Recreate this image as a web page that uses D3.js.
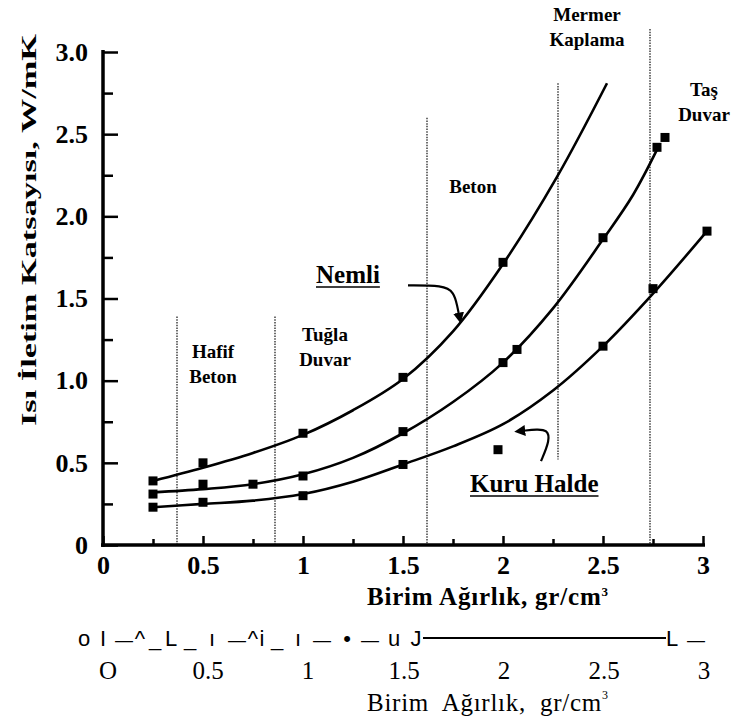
<!DOCTYPE html>
<html>
<head>
<meta charset="utf-8">
<script src="https://cdn.jsdelivr.net/npm/d3@7"></script>
<style>
  html, body { margin: 0; padding: 0; background: #fff; }
  svg { display: block; }
  text { fill: #000; }
</style>
</head>
<body>
<div id="chart"></div>
<script>
// ---------------- DATA ----------------
// Fitted curves
const nemliCurveX = [0.25, 0.5, 0.75, 1.0, 1.25, 1.5, 1.75, 2.0, 2.27, 2.52];
const nemliCurveY = [0.39, 0.47, 0.56, 0.67, 0.82, 1.01, 1.30, 1.71, 2.24, 2.81];
const ortaCurveX  = [0.25, 0.5, 0.75, 1.0, 1.25, 1.5, 1.75, 2.0, 2.25, 2.5, 2.65, 2.78];
const ortaCurveY  = [0.32, 0.34, 0.37, 0.43, 0.53, 0.68, 0.87, 1.11, 1.44, 1.86, 2.13, 2.43];
const kuruCurveX  = [0.25, 0.5, 0.75, 1.0, 1.25, 1.5, 1.75, 2.0, 2.25, 2.5, 2.75, 3.02];
const kuruCurveY  = [0.23, 0.25, 0.27, 0.31, 0.385, 0.49, 0.60, 0.735, 0.94, 1.21, 1.53, 1.91];

// Measured points (square markers)
const nemliPtsX = [0.25, 0.5, 1.0, 1.5, 2.0];
const nemliPtsY = [0.39, 0.50, 0.68, 1.02, 1.72];
const ortaPtsX  = [0.25, 0.5, 0.75, 1.0, 1.5, 2.0, 2.07, 2.5, 2.77, 2.81];
const ortaPtsY  = [0.31, 0.37, 0.37, 0.42, 0.69, 1.11, 1.19, 1.87, 2.42, 2.48];
const kuruPtsX  = [0.25, 0.5, 1.0, 1.5, 1.975, 2.5, 2.75, 3.02];
const kuruPtsY  = [0.23, 0.26, 0.30, 0.49, 0.58, 1.21, 1.56, 1.91];

// Material zone boundaries (x) and their vertical extents (y from, y to)
const zoneX    = [0.37, 0.86, 1.62, 2.275, 2.735];
const zoneYTop = [1.39, 1.39, 2.60, 2.81, 3.14];
const zoneYBot = [0.0, 0.0, 0.0, 0.52, 0.0];

// Axis ticks
const yMajorTicks = [0, 0.5, 1.0, 1.5, 2.0, 2.5, 3.0];
const yMajorLabels = ["0", "0.5", "1.0", "1.5", "2.0", "2.5", "3.0"];
const yMinorTicks = [0.25, 0.75, 1.25, 1.75, 2.25, 2.75];
const xMajorTicks = [0, 0.5, 1, 1.5, 2, 2.5, 3];
const xMajorLabels = ["0", "0.5", "1", "1.5", "2", "2.5", "3"];
const xMinorTicks = [0.25, 0.75, 1.25, 1.75, 2.25, 2.75];
const x2Labels = ["O", "0.5", "1", "1.5", "2", "2.5", "3"];

// Texts
const yTitle = "Isı İletim Katsayısı, W/mK";
const xTitleMain = "Birim Ağırlık, gr/cm";
const xTitle2Main = "Birim  Ağırlık,  gr/cm";
const zoneLabels = [["Hafif", "Beton"], ["Tuğla", "Duvar"], ["Beton"], ["Mermer", "Kaplama"], ["Taş", "Duvar"]];
const seriesLabels = ["Nemli", "Kuru Halde"];
// OCR residue row under the chart
const ocrTokens = ["o", "I", "—", "^", "_", "L", "_", "ı", "—", "^", "i", "_", "ı", "—", "•", "—", "u", "J", "L", "—"];

// ---------------- LAYOUT ----------------
const W = 741, H = 724;
const serif = "'Liberation Serif','Times New Roman',Times,serif";
const sans = "'Liberation Sans',Arial,Helvetica,sans-serif";

const svg = d3.select("#chart").append("svg").attr("width", W).attr("height", H);

const x = d3.scaleLinear().domain([0, 3]).range([103, 703]);
const y = d3.scaleLinear().domain([0, 3]).range([545, 52]);

// zone dotted lines
svg.append("g").selectAll("line").data(zoneX).join("line")
  .attr("x1", d => x(d)).attr("x2", d => x(d))
  .attr("y1", (d, i) => y(zoneYTop[i])).attr("y2", (d, i) => y(zoneYBot[i]))
  .attr("stroke", "#222").attr("stroke-width", 1.3).attr("stroke-dasharray", "1.5,1.2");

// Y axis (ticks inside, labels left)
const gy = svg.append("g").attr("transform", `translate(${x(0)},0)`);
gy.call(d3.axisLeft(y).tickValues(yMajorTicks).tickSizeInner(-15).tickSizeOuter(0).tickPadding(15)
  .tickFormat((d, i) => yMajorLabels[i]));
gy.call(g => g.select(".domain").remove());
gy.selectAll(".tick line").attr("stroke", "#000").attr("stroke-width", 2.5);
gy.selectAll(".tick text").attr("font-family", serif).attr("font-weight", "bold").attr("font-size", 26)
  .attr("fill", "#000");
const gy2 = svg.append("g").attr("transform", `translate(${x(0)},0)`);
gy2.call(d3.axisLeft(y).tickValues(yMinorTicks).tickSizeInner(-10).tickSizeOuter(0).tickFormat(""));
gy2.call(g => g.select(".domain").remove());
gy2.selectAll(".tick line").attr("stroke", "#000").attr("stroke-width", 2.5);

// X axis (ticks upward, labels below)
const gx = svg.append("g").attr("transform", `translate(0,${y(0)})`);
gx.call(d3.axisBottom(x).tickValues(xMajorTicks).tickSizeInner(-9).tickSizeOuter(0).tickPadding(11)
  .tickFormat((d, i) => xMajorLabels[i]));
gx.call(g => g.select(".domain").remove());
gx.selectAll(".tick line").attr("stroke", "#000").attr("stroke-width", 2.5);
gx.selectAll(".tick text").attr("font-family", serif).attr("font-weight", "bold").attr("font-size", 26)
  .attr("fill", "#000");
const gx2 = svg.append("g").attr("transform", `translate(0,${y(0)})`);
gx2.call(d3.axisBottom(x).tickValues(xMinorTicks).tickSizeInner(-6).tickSizeOuter(0).tickFormat(""));
gx2.call(g => g.select(".domain").remove());
gx2.selectAll(".tick line").attr("stroke", "#000").attr("stroke-width", 2.5);

// axis lines
svg.append("line").attr("x1", x(0)).attr("x2", x(0)).attr("y1", y(3) - 2).attr("y2", y(0) + 2)
  .attr("stroke", "#000").attr("stroke-width", 3.5);
svg.append("line").attr("x1", x(0) - 2).attr("x2", x(3.01)).attr("y1", y(0)).attr("y2", y(0))
  .attr("stroke", "#000").attr("stroke-width", 3.5);

// curves
const line = d3.line().x(d => x(d[0])).y(d => y(d[1])).curve(d3.curveCatmullRom.alpha(0.5));
const curves = [
  d3.zip(nemliCurveX, nemliCurveY),
  d3.zip(ortaCurveX, ortaCurveY),
  d3.zip(kuruCurveX, kuruCurveY)
];
svg.append("g").selectAll("path").data(curves).join("path")
  .attr("d", line).attr("fill", "none").attr("stroke", "#000").attr("stroke-width", 2.6);

// markers
const pts = [].concat(d3.zip(nemliPtsX, nemliPtsY), d3.zip(ortaPtsX, ortaPtsY), d3.zip(kuruPtsX, kuruPtsY));
const ms = 9;
svg.append("g").selectAll("rect").data(pts).join("rect")
  .attr("x", d => x(d[0]) - ms / 2).attr("y", d => y(d[1]) - ms / 2)
  .attr("width", ms).attr("height", ms).attr("fill", "#000");

// Y title
svg.append("text")
  .attr("transform", `translate(36,${(33 + 427) / 2}) rotate(-90)`)
  .attr("text-anchor", "middle").attr("font-family", serif).attr("font-weight", "bold")
  .attr("font-size", 22).attr("textLength", 392).attr("lengthAdjust", "spacingAndGlyphs")
  .text(yTitle);

// X title (bold)
const xt = svg.append("text").attr("x", 367).attr("y", 605)
  .attr("font-family", serif).attr("font-weight", "bold").attr("font-size", 25)
  .attr("textLength", 241).attr("lengthAdjust", "spacing");
xt.append("tspan").text(xTitleMain);
xt.append("tspan").attr("font-size", 13).attr("dy", -9).text("3");

// zone labels
const zonePos = [[213, 358], [325, 341], [473, 193], [587, 21], [704, 96]];
zoneLabels.forEach((lines, i) => {
  lines.forEach((t, j) => {
    svg.append("text").attr("x", zonePos[i][0]).attr("y", zonePos[i][1] + j * 25)
      .attr("text-anchor", "middle").attr("font-family", serif).attr("font-weight", "bold")
      .attr("font-size", 19).text(t);
  });
});

// series labels (underlined)
const labPos = [[316, 283], [470, 492]];
seriesLabels.forEach((t, i) => {
  const tx = svg.append("text").attr("x", labPos[i][0]).attr("y", labPos[i][1])
    .attr("font-family", serif).attr("font-weight", "bold").attr("font-size", 25).text(t);
  const w = tx.node().getComputedTextLength();
  svg.append("line").attr("x1", labPos[i][0]).attr("x2", labPos[i][0] + w)
    .attr("y1", labPos[i][1] + 4).attr("y2", labPos[i][1] + 4)
    .attr("stroke", "#000").attr("stroke-width", 1.6);
});

// arrows (in data units)
const arrowNemli = [[1.525, 1.58], [1.70, 1.58], [1.755, 1.54], [1.772, 1.45], [1.78, 1.40]];
const arrowKuru = [[2.19, 0.51], [2.235, 0.64], [2.222, 0.70], [2.17, 0.705], [2.10, 0.695]];
svg.append("defs").append("marker").attr("id", "ah").attr("viewBox", "0 0 10 10")
  .attr("refX", 2).attr("refY", 5).attr("markerWidth", 5).attr("markerHeight", 5)
  .attr("orient", "auto").append("path").attr("d", "M0,0 L10,5 L0,10 z").attr("fill", "#000");
const aline = d3.line().x(d => x(d[0])).y(d => y(d[1])).curve(d3.curveBasis);
[arrowNemli, arrowKuru].forEach(a => {
  svg.append("path").attr("d", aline(a)).attr("fill", "none").attr("stroke", "#000")
    .attr("stroke-width", 2.2).attr("marker-end", "url(#ah)");
});

// OCR residue row
const ocrX = [84, 103, 124, 140, 155, 171, 190, 212, 237, 253, 262, 277, 298, 322, 347, 370, 394, 416, 672, 696];
ocrTokens.forEach((t, i) => {
  const isDash = t === "—";
  svg.append("text").attr("x", ocrX[i]).attr("y", 646)
    .attr("text-anchor", "middle").attr("font-family", sans)
    .attr("font-size", isDash ? 18 : 22).text(t);
});
svg.append("line").attr("x1", 423).attr("x2", 666).attr("y1", 638).attr("y2", 638)
  .attr("stroke", "#000").attr("stroke-width", 2);

// second tick row (regular serif)
svg.append("g").selectAll("text").data(xMajorTicks).join("text")
  .attr("x", d => x(d) + (d < 1.5 ? 5 : 1)).attr("y", 679)
  .attr("text-anchor", "middle").attr("font-family", serif).attr("font-size", 25)
  .text((d, i) => x2Labels[i]);

// second title (regular)
const xt2 = svg.append("text").attr("x", 367).attr("y", 711)
  .attr("font-family", serif).attr("font-size", 25).attr("xml:space", "preserve")
  .attr("textLength", 241).attr("lengthAdjust", "spacing")
  .style("white-space", "pre");
xt2.append("tspan").text(xTitle2Main);
xt2.append("tspan").attr("font-size", 12).attr("dy", -12).text("3");
</script>
</body>
</html>
